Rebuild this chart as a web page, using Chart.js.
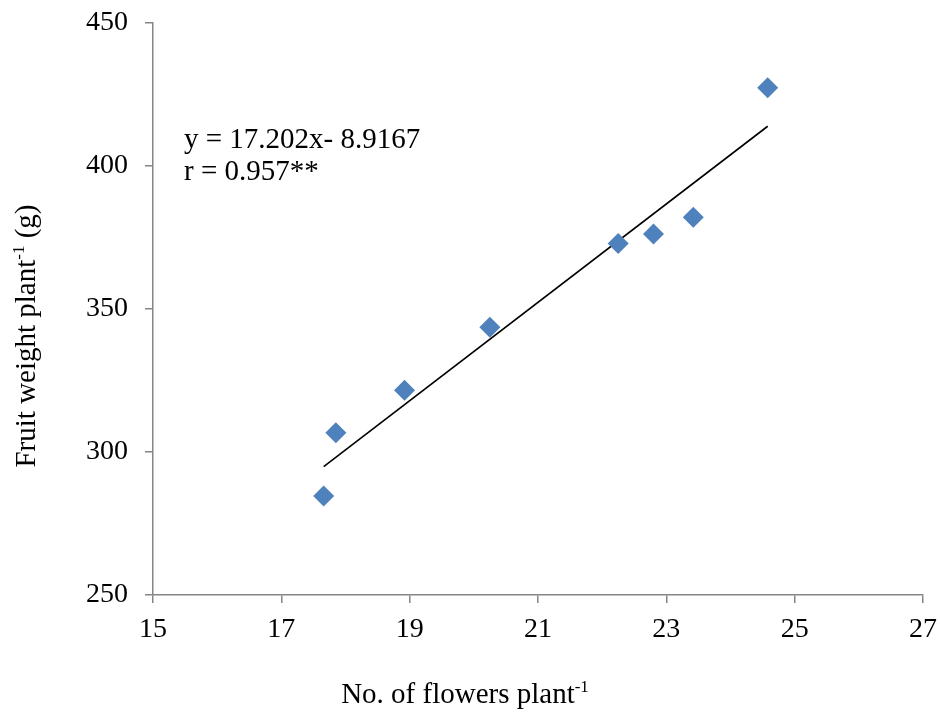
<!DOCTYPE html>
<html>
<head>
    <title>Fruit weight vs. flowers</title>
    <script src="https://cdn.jsdelivr.net/npm/chart.js"></script>
    <style>
        body {
            margin: 0;
            background: #fff;
        }
        #chart {
            display: block;
        }
    </style>
</head>
<body>
    <canvas id="chart" width="940" height="716"></canvas>

    <script>
        // 数据点
        const flowers = [17.66, 17.85, 18.92, 20.25, 22.25, 22.80, 23.42, 24.58];
        const fruitWeight = [284.6, 306.7, 321.6, 343.6, 372.9, 376.2, 382.1, 427.4];
        // 趋势线两端
        const trendX = [17.66, 24.58];
        const trendY = [294.9, 413.9];
        const xTicks = [15, 17, 19, 21, 23, 25, 27];
        const yTicks = [250, 300, 350, 400, 450];
        const equationLines = ['y = 17.202x- 8.9167', 'r = 0.957**'];

        const FONT = '"Liberation Serif", "Times New Roman", serif';
        const axisGrey = '#868686';

        // 画坐标轴标题(带上标)和回归方程
        const textPlugin = {
            id: 'textPlugin',
            afterDraw(chart) {
                const ctx = chart.ctx;
                ctx.save();
                ctx.fillStyle = '#000';
                ctx.textBaseline = 'alphabetic';

                // 回归方程
                ctx.font = '29px ' + FONT;
                ctx.textAlign = 'left';
                ctx.fillText(equationLines[0], 184, 148);
                ctx.fillText(equationLines[1], 184, 180);

                // 带上标的标题
                function drawTitle(main, sup, after, cx, baseline) {
                    ctx.font = '29px ' + FONT;
                    const w1 = ctx.measureText(main).width;
                    const w3 = ctx.measureText(after).width;
                    ctx.font = '17px ' + FONT;
                    const w2 = ctx.measureText(sup).width;
                    let x = cx - (w1 + w2 + w3) / 2;
                    ctx.textAlign = 'left';
                    ctx.font = '29px ' + FONT;
                    ctx.fillText(main, x, baseline);
                    ctx.font = '17px ' + FONT;
                    ctx.fillText(sup, x + w1, baseline - 11);
                    ctx.font = '29px ' + FONT;
                    ctx.fillText(after, x + w1 + w2, baseline);
                }

                drawTitle('No. of flowers plant', '-1', '', 465, 703);

                ctx.translate(35, 336);
                ctx.rotate(-Math.PI / 2);
                drawTitle('Fruit weight plant', '-1', ' (g)', 0, 0);

                ctx.restore();
            }
        };

        const ctx = document.getElementById('chart').getContext('2d');
        const chart = new Chart(ctx, {
            type: 'scatter',
            data: {
                datasets: [
                    {
                        label: 'Fruit weight',
                        data: flowers.map((x, i) => ({x: x, y: fruitWeight[i]})),
                        pointStyle: 'rectRot',
                        pointRadius: 10.5,
                        pointHoverRadius: 10.5,
                        backgroundColor: '#4F81BD',
                        borderColor: '#4F81BD',
                        borderWidth: 0
                    },
                    {
                        label: 'Trend',
                        type: 'line',
                        data: trendX.map((x, i) => ({x: x, y: trendY[i]})),
                        borderColor: '#000',
                        borderWidth: 1.6,
                        pointRadius: 0,
                        fill: false
                    }
                ]
            },
            options: {
                responsive: false,
                animation: false,
                layout: {
                    padding: {top: 23, right: 17, left: 0, bottom: 0}
                },
                plugins: {
                    legend: {display: false},
                    tooltip: {enabled: false}
                },
                scales: {
                    x: {
                        type: 'linear',
                        min: 15,
                        max: 27,
                        afterBuildTicks: (scale) => {
                            scale.ticks = xTicks.map(v => ({value: v}));
                        },
                        afterFit: (scale) => {
                            scale.height = 121;
                            scale.paddingLeft = 0;
                            scale.paddingRight = 0;
                        },
                        grid: {
                            drawOnChartArea: false,
                            drawTicks: true,
                            tickLength: 8,
                            color: axisGrey,
                            lineWidth: 1.5
                        },
                        border: {color: axisGrey, width: 1.5},
                        ticks: {
                            color: '#000',
                            font: {family: FONT, size: 28},
                            padding: 10,
                            maxRotation: 0
                        }
                    },
                    y: {
                        type: 'linear',
                        min: 250,
                        max: 450,
                        afterBuildTicks: (scale) => {
                            scale.ticks = yTicks.map(v => ({value: v}));
                        },
                        afterFit: (scale) => {
                            scale.width = 153;
                            scale.paddingTop = 0;
                            scale.paddingBottom = 0;
                        },
                        grid: {
                            drawOnChartArea: false,
                            drawTicks: true,
                            tickLength: 8,
                            color: axisGrey,
                            lineWidth: 1.5
                        },
                        border: {color: axisGrey, width: 1.5},
                        ticks: {
                            color: '#000',
                            font: {family: FONT, size: 28},
                            padding: 17
                        }
                    }
                }
            },
            plugins: [textPlugin]
        });
    </script>
</body>
</html>
